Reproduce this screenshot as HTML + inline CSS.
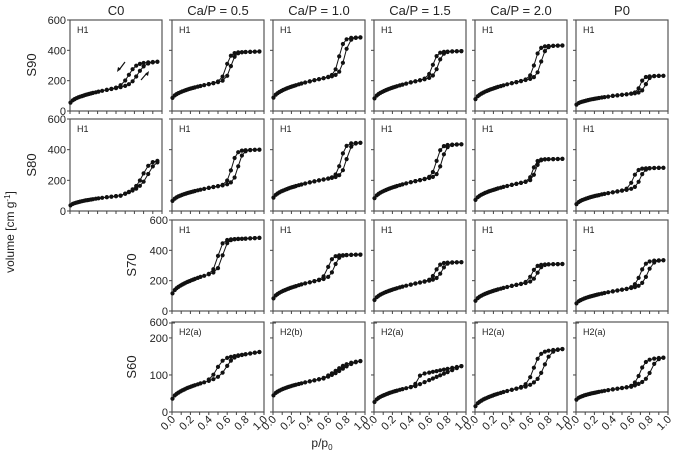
<!DOCTYPE html>
<html><head><meta charset="utf-8"><style>
html,body{margin:0;padding:0;background:#fff;width:680px;height:455px;overflow:hidden}
svg text{font-family:"Liberation Sans",sans-serif;fill:#222}
</style></head><body>
<svg id="s" width="680" height="455" xmlns="http://www.w3.org/2000/svg"></svg>
<script>
var S=document.getElementById('s'),out='';
var colX=[70,172,273,374,475,576],W=92;
var rowT=[20,119,220,322],rowB=[111,211,311,412];
var heads=['C0','Ca/P = 0.5','Ca/P = 1.0','Ca/P = 1.5','Ca/P = 2.0','P0'];
// [v0, vpre, ppre, plat, pa, pd, w, lowslope, platslope]
var P=[
[[45,150,.5,325,.74,.64,.04,110,40],[75,195,.55,392,.64,.59,.025,120,20],[75,225,.62,485,.78,.72,.025,140,20],[70,215,.6,395,.7,.64,.025,120,20],[65,210,.6,432,.72,.65,.025,130,20],[35,115,.62,232,.76,.7,.02,80,15]],
[[30,100,.55,330,.86,.8,.04,240,0],[55,170,.58,400,.72,.65,.025,130,20],[75,220,.68,445,.8,.74,.025,130,20],[70,220,.65,435,.74,.68,.025,120,20],[60,195,.6,340,.66,.63,.02,110,15],[35,140,.58,282,.7,.62,.025,110,15]],
[null,[100,250,.45,482,.55,.5,.025,150,30],[70,210,.55,372,.67,.6,.025,120,20],[60,200,.6,322,.74,.67,.025,110,15],[55,190,.6,310,.68,.62,.025,110,15],[40,145,.55,335,.78,.7,.03,120,20]],
[null,[30,85,.42,162,.6,.49,.035,90,40],[40,90,.55,138,.8,.72,.06,90,30],[22,70,.45,124,2,.47,.015,108,50],[10,70,.58,170,.76,.64,.035,120,25],[30,68,.6,147,.82,.7,.03,90,25]]
];
var labs=[['H1','H1','H1','H1','H1','H1'],['H1','H1','H1','H1','H1','H1'],['','H1','H1','H1','H1','H1'],['','H2(a)','H2(b)','H2(a)','H2(a)','H2(a)']];
function sig(x){return 1/(1+Math.exp(-x))}
for(var r=0;r<4;r++){
 for(var c=0;c<6;c++){
  var p=P[r][c]; if(!p) continue;
  var x0=colX[c],t=rowT[r],b=rowB[r];
  var vmax=(r==3)?243:600;
  var first=(r<2?c==0:c==1);
  out+='<rect x="'+x0+'" y="'+t+'" width="'+W+'" height="'+(b-t)+'" fill="none" stroke="#555" stroke-width="1.2"/>';
  var yt=(r==3)?[0,100,200]:[0,200,400,600];
  yt.forEach(function(v){var y=b-(v/vmax)*(b-t);out+='<line x1="'+(x0-3)+'" x2="'+x0+'" y1="'+y+'" y2="'+y+'" stroke="#444"/>';
   if(first)out+='<text x="'+(x0-4)+'" y="'+(y+4)+'" font-size="11" text-anchor="end">'+v+'</text>';});
  if(r==3&&c==1)out+='<text x="'+(x0-4)+'" y="'+(t+4)+'" font-size="11" text-anchor="end">600</text>';
  if(r==3)out+='<line x1="'+(x0-3)+'" x2="'+(x0+3)+'" y1="'+(t+1)+'" y2="'+(t+1)+'" stroke="#444"/>';
  for(var k=0;k<=10;k++){var xx=x0+k*W/10;out+='<line x1="'+xx+'" x2="'+xx+'" y1="'+b+'" y2="'+(b+3)+'" stroke="#444"/>';}
  if(r==3){for(var k=0;k<=5;k++){var xx=x0+k*W/5;out+='<text transform="translate('+(xx+4)+','+(b+8)+') rotate(-45)" font-size="11" text-anchor="end">'+(k/5).toFixed(1)+'</text>';}}
  out+='<text x="'+(x0+7)+'" y="'+(t+13)+'" font-size="9">'+labs[r][c]+'</text>';
  var Y=function(v){return b-(v/vmax)*(b-t)}, X=function(q){return x0+q*W};
  var low=function(q){return q<=p[2]?p[0]+(p[1]-p[0])*Math.pow(q/p[2],0.5):p[1]+(q-p[2])*p[7]};
  var plat=function(q){return p[3]-(0.95-q)*p[8]};
  var ads=function(q){var l=low(q);return l+(Math.max(plat(q),l)-l)*sig((q-p[4])/p[6])};
  var des=function(q){var l=low(q);return l+(Math.max(plat(q),l)-l)*sig((q-p[5])/p[6])};
  var qs=[0.005,0.03,0.05,0.07,0.09,0.11,0.13,0.15,0.17,0.19,0.21,0.23,0.25,0.28,0.31,0.35,0.4,0.45,0.5,0.55,0.6,0.64,0.68,0.72,0.76,0.8,0.85,0.9,0.95];
  var d='';qs.forEach(function(q,i){d+=(i?'L':'M')+X(q).toFixed(1)+' '+Y(ads(q)).toFixed(1);});
  var dq=[0.95,0.9,0.85,0.8,0.76,0.72,0.68,0.64,0.6,0.55,0.5,0.45,0.4];
  var d2='';dq.forEach(function(q,i){d2+=(i?'L':'M')+X(q).toFixed(1)+' '+Y(des(q)).toFixed(1);});
  out+='<path d="'+d+'" fill="none" stroke="#111" stroke-width="1"/><path d="'+d2+'" fill="none" stroke="#111" stroke-width="1"/>';
  qs.forEach(function(q){out+='<circle cx="'+X(q).toFixed(1)+'" cy="'+Y(ads(q)).toFixed(1)+'" r="2.1" fill="#111"/>';});
  dq.forEach(function(q){out+='<circle cx="'+X(q).toFixed(1)+'" cy="'+Y(des(q)).toFixed(1)+'" r="2.1" fill="#111"/>';});
 }
}
heads.forEach(function(h,c){out+='<text x="'+(colX[c]+W/2)+'" y="15" font-size="13" text-anchor="middle">'+h+'</text>';});
var rn=[['S90',36,65],['S80',36,165],['S70',136,265],['S60',136,367]];
rn.forEach(function(n){out+='<text transform="translate('+n[1]+','+n[2]+') rotate(-90)" font-size="13" text-anchor="middle">'+n[0]+'</text>';});
out+='<text transform="translate(14,232) rotate(-90)" font-size="12" text-anchor="middle">volume [cm g<tspan dy="-4" font-size="8">-1</tspan><tspan dy="4">]</tspan></text>';
out+='<text x="322" y="447" font-size="12" text-anchor="middle">p/p<tspan dy="3" font-size="8">0</tspan></text>';
out+='<path d="M125 62 L119 70 M141 80 L147 73" stroke="#111" stroke-width="1.2"/><path d="M117 72 L118 67 L121 69Z M149 71 L148 76 L145 74Z" fill="#111"/>';
S.innerHTML=out;
</script>
</body></html>
